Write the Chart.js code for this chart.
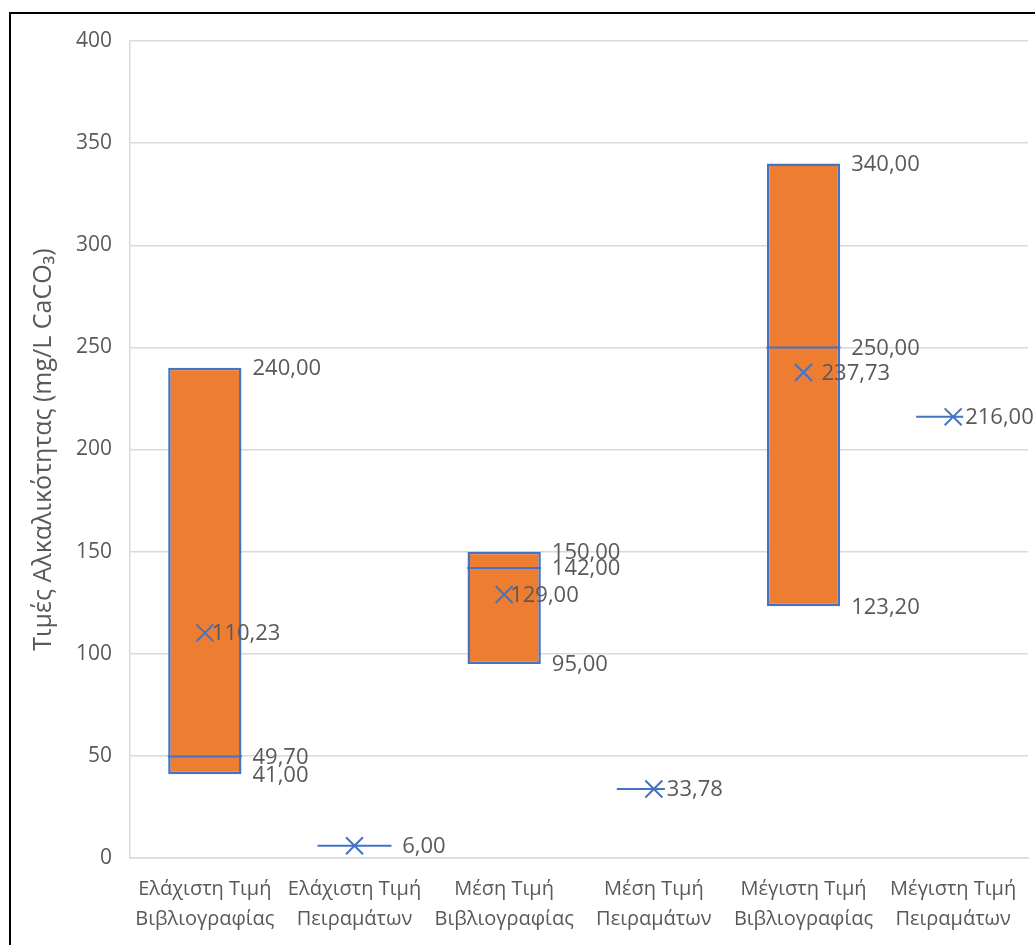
<!DOCTYPE html>
<html>
<head>
<meta charset="utf-8">
<script src="https://cdn.jsdelivr.net/npm/chart.js@4.4.1/dist/chart.umd.min.js"></script>
<style>
  html, body { margin: 0; padding: 0; background: #fff; overflow: hidden; }
  #frame { position: absolute; left: 9px; top: 12px; width: 1100px; height: 1000px;
           border-left: 2px solid #000; border-top: 2px solid #000; }
  #wrap { position: absolute; left: 0; top: 0; width: 1035px; height: 945px; }
</style>
</head>
<body>
<div id="frame"></div>
<div id="wrap"><canvas id="chart"></canvas></div>
<script>
// data
const categories = [
  ["Ελάχιστη Τιμή", "Βιβλιογραφίας"],
  ["Ελάχιστη Τιμή", "Πειραμάτων"],
  ["Μέση Τιμή", "Βιβλιογραφίας"],
  ["Μέση Τιμή", "Πειραμάτων"],
  ["Μέγιστη Τιμή", "Βιβλιογραφίας"],
  ["Μέγιστη Τιμή", "Πειραμάτων"]
];
const boxLow  = [41, null, 95, null, 123.2, null];
const boxHigh = [240, null, 150, null, 340, null];
const medians = [49.7, 6, 142, 33.78, 250, 216];
const means   = [110.23, 6, 129, 33.78, 237.73, 216];
// labels beside the box (max, median, min) and next to the mean
const boxLabels  = [[240, 49.7, 41], [6], [150, 142, 95], [], [340, 250, 123.2], []];
const meanLabels = [110.23, null, 129, 33.78, 237.73, 216];
const yMin = 0, yMax = 400, yStep = 50;
const yTitle = "Τιμές Αλκαλικότητας (mg/L CaCO₃)";

const ORANGE = "#ED7D31";
const BLUE = "#4472C4";
const TEXT = "#595959";
const GRID = "#d9d9d9";
const BAR_FRAC = 0.49;

const fmt = v => v.toFixed(2).replace(".", ",");

const labelPlugin = {
  id: "boxLabels",
  afterDatasetsDraw(chart, args, opts) {
    const ctx = chart.ctx;
    const xs = chart.scales.x, ys = chart.scales.y;
    const band = xs.getPixelForValue(1) - xs.getPixelForValue(0);
    const half = band * BAR_FRAC / 2;
    ctx.save();
    ctx.font = "22px 'Open Sans'";
    ctx.fillStyle = TEXT;
    ctx.textBaseline = "middle";
    ctx.textAlign = "left";
    categories.forEach((c, i) => {
      const cx = xs.getPixelForValue(i);
      boxLabels[i].forEach(v => {
        ctx.fillText(fmt(v), cx + half + 11, ys.getPixelForValue(v) + 1);
      });
      const m = meanLabels[i];
      if (m !== null) {
        const tx = cx + opts.meanDx[i];
        const ty = ys.getPixelForValue(m) + 1;
        if (opts.meanBg[i]) {
          const w = ctx.measureText(fmt(m)).width;
          ctx.fillStyle = "#fff";
          ctx.fillRect(tx - 2, ty - 13, w + 4, 26);
          ctx.fillStyle = TEXT;
        }
        ctx.fillText(fmt(m), tx, ty);
      }
    });
    ctx.restore();
  }
};

new Chart(document.getElementById("chart"), {
  type: "bar",
  data: {
    labels: categories,
    datasets: [
      {
        type: "line",
        label: "Μέση τιμή",
        data: means,
        showLine: false,
        pointStyle: "crossRot",
        pointRadius: 12,
        pointBorderWidth: 2,
        pointBorderColor: BLUE,
        order: 1
      },
      {
        type: "line",
        label: "Διάμεσος",
        data: medians,
        showLine: false,
        pointStyle: "line",
        pointRadius: 37,
        pointBorderWidth: 2,
        pointBorderColor: BLUE,
        order: 2
      },
      {
        type: "bar",
        label: "Εύρος",
        data: boxLow.map((lo, i) => lo === null ? null : [lo, boxHigh[i]]),
        backgroundColor: ORANGE,
        borderColor: BLUE,
        borderWidth: 2.5,
        borderSkipped: false,
        categoryPercentage: 1,
        barPercentage: BAR_FRAC,
        order: 3
      }
    ]
  },
  options: {
    responsive: true,
    maintainAspectRatio: false,
    animation: false,
    layout: { autoPadding: false, padding: { left: 10, top: 41, right: 7, bottom: 0 } },
    plugins: {
      legend: { display: false },
      tooltip: { enabled: false },
      boxLabels: {
        meanDx: [7, 0, 6, 13, 18, 12],
        meanBg: [false, false, false, true, false, true]
      }
    },
    scales: {
      x: {
        afterFit: s => { s.height = 87; s.paddingLeft = 0; s.paddingRight = 0; },
        grid: { display: false, drawTicks: false },
        border: { display: true, color: GRID, width: 1.5 },
        ticks: {
          color: TEXT,
          font: { family: "'Open Sans'", size: 20, lineHeight: 1.5 },
          padding: 16, maxRotation: 0, autoSkip: false
        }
      },
      y: {
        min: yMin,
        max: yMax,
        afterFit: s => { s.width = 120; },
        ticks: { stepSize: yStep, color: TEXT, font: { family: "'Open Sans'", size: 21 }, padding: 18 },
        grid: { color: GRID, lineWidth: 1.5, drawTicks: false },
        border: { display: true, color: GRID, width: 1.5 },
        title: {
          display: true,
          text: yTitle,
          color: TEXT,
          font: { family: "'Open Sans'", size: 25 },
          padding: { top: 19, bottom: 0 }
        }
      }
    }
  },
  plugins: [labelPlugin]
});
</script>
</body>
</html>
